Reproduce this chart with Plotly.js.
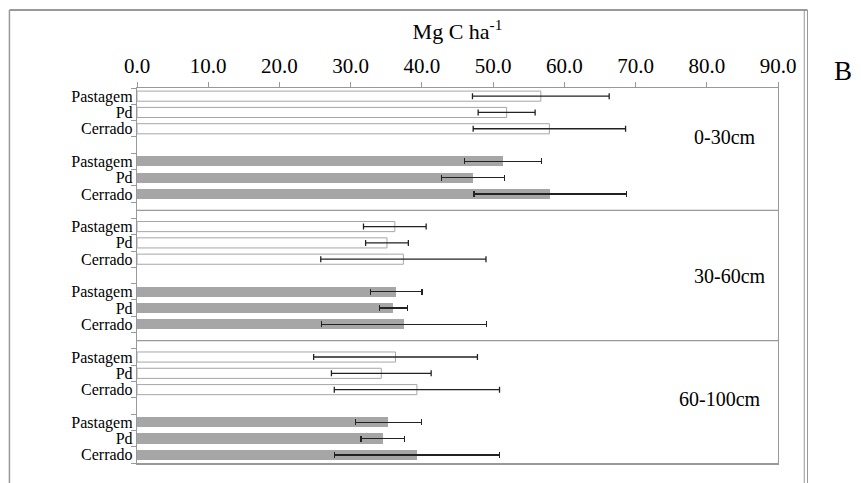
<!DOCTYPE html>
<html>
<head>
<meta charset="utf-8">
<script src="https://cdn.plot.ly/plotly-3.0.1.min.js"></script>
<style>html,body{margin:0;padding:0;background:#fff;}#chart{width:861px;height:483px;}</style>
</head>
<body>
<div id="chart"></div>
<script>
// Categories
const depths = ['0-30cm', '30-60cm', '60-100cm'];
const systems = ['Pastagem', 'Pd', 'Cerrado'];
const xTickVals = [0, 10, 20, 30, 40, 50, 60, 70, 80, 90];

// Series 1: open (white) bars, ordered depth by depth, system by system
const openVals = [56.7, 51.9, 57.9, 36.2, 35.1, 37.4, 36.3, 34.3, 39.3];
const openErr  = [9.6, 4.0, 10.7, 4.4, 3.0, 11.6, 11.5, 7.0, 11.6];
// Series 2: filled (grey) bars
const fillVals = [51.4, 47.2, 58.0, 36.4, 36.0, 37.5, 35.3, 34.5, 39.3];
const fillErr  = [5.4, 4.4, 10.7, 3.6, 2.0, 11.6, 4.6, 3.05, 11.6];

// Slot layout: each depth block = 8 slots (3 open, blank, 3 filled, separator)
const openY = [], fillY = [], tickVals = [], tickText = [], sepY = [];
depths.forEach((d, g) => {
  systems.forEach((s, i) => {
    openY.push(g * 8 + i);
    fillY.push(g * 8 + 4 + i);
    tickVals.push(g * 8 + i, g * 8 + 4 + i);
    tickText.push(s, s);
  });
  if (g < depths.length - 1) sepY.push(g * 8 + 7);
});

const font = '"Liberation Serif", "Times New Roman", Times, serif';

const traces = [
  {
    type: 'bar', orientation: 'h', x: openVals, y: openY, width: 0.62,
    marker: {color: '#ffffff', line: {color: '#a6a6a6', width: 1}},
    error_x: {type: 'data', array: openErr, visible: true, color: '#222', thickness: 1.3, width: 3},
    showlegend: false, hoverinfo: 'x'
  },
  {
    type: 'bar', orientation: 'h', x: fillVals, y: fillY, width: 0.62,
    marker: {color: '#a6a6a6', line: {width: 0}},
    error_x: {type: 'data', array: fillErr, visible: true, color: '#222', thickness: 1.3, width: 3},
    showlegend: false, hoverinfo: 'x'
  }
];

const shapes = sepY.map(v => ({
  type: 'line', xref: 'x', yref: 'y', x0: 0, x1: 90, y0: v, y1: v,
  line: {color: '#999', width: 1.2}
}));
// outer frame (chart area border)
shapes.push({type: 'line', xref: 'paper', yref: 'paper', x0: -0.199, x1: 1.046, y0: 1.208, y1: 1.208, line: {color: '#999', width: 2}});
shapes.push({type: 'line', xref: 'paper', yref: 'paper', x0: -0.199, x1: -0.199, y0: 1.208, y1: -0.1, line: {color: '#999', width: 1.5}});
shapes.push({type: 'line', xref: 'paper', yref: 'paper', x0: 1.041, x1: 1.041, y0: 1.208, y1: -0.1, line: {color: '#999', width: 1}});
shapes.push({type: 'line', xref: 'paper', yref: 'paper', x0: 1.046, x1: 1.046, y0: 1.208, y1: -0.1, line: {color: '#999', width: 1}});

const annotations = [
  {text: depths[0], x: 82.6, y: 2.5, xref: 'x', yref: 'y', showarrow: false, xanchor: 'center', font: {family: font, size: 20, color: '#000'}},
  {text: depths[1], x: 83.2, y: 11.0, xref: 'x', yref: 'y', showarrow: false, xanchor: 'center', font: {family: font, size: 20, color: '#000'}},
  {text: depths[2], x: 81.8, y: 18.6, xref: 'x', yref: 'y', showarrow: false, xanchor: 'center', font: {family: font, size: 20, color: '#000'}},
  {text: 'B', x: 1.102, y: 1.09, xref: 'paper', yref: 'paper', showarrow: false, xanchor: 'center', font: {family: font, size: 27, color: '#000'}}
];

const layout = {
  width: 861, height: 483,
  margin: {l: 137, r: 83, t: 88, b: 20},
  paper_bgcolor: '#fff', plot_bgcolor: '#fff',
  font: {family: font, size: 16, color: '#000'},
  bargap: 0,
  xaxis: {
    side: 'top', range: [0, 90], tickvals: xTickVals, tickformat: '.1f',
    ticks: 'outside', ticklen: 5, tickcolor: '#999',
    showline: true, linecolor: '#999', linewidth: 1.5, mirror: true,
    showgrid: false, zeroline: false,
    tickfont: {family: font, size: 21, color: '#000'},
    title: {text: 'Mg C ha<sup>-1</sup>', font: {family: font, size: 22, color: '#000'}, standoff: 8}
  },
  yaxis: {
    range: [22.5, -0.5], tickvals: tickVals, ticktext: tickText,
    ticks: '', showline: true, linecolor: '#999', linewidth: 1.2, mirror: true,
    showgrid: false, zeroline: false,
    minor: {tick0: -0.5, dtick: 1, ticks: 'outside', ticklen: 5, tickcolor: '#999', showgrid: false},
    tickfont: {family: font, size: 16, color: '#000'}
  },
  shapes: shapes,
  annotations: annotations
};

Plotly.newPlot('chart', traces, layout, {displayModeBar: false, staticPlot: true});
</script>
</body>
</html>
